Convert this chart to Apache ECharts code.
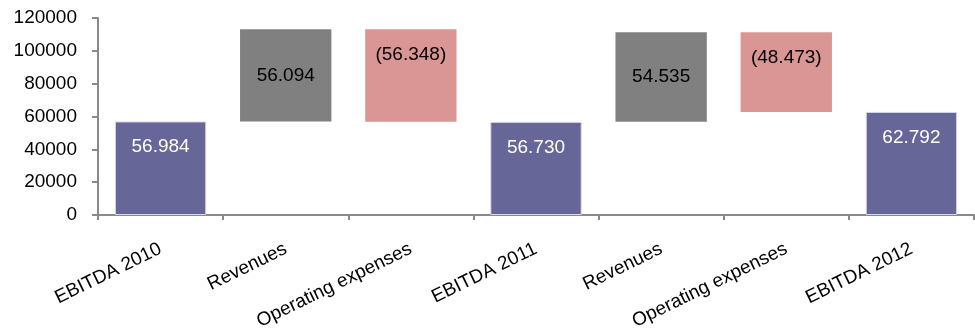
<!DOCTYPE html>
<html>
<head>
<meta charset="utf-8">
<script src="https://cdn.jsdelivr.net/npm/echarts@6/dist/echarts.min.js"></script>
<style>
  html, body { margin: 0; padding: 0; background: #fff; }
  #chart { width: 975px; height: 334px; }
</style>
</head>
<body>
<div id="chart"></div>
<script>
const categories = ["EBITDA 2010", "Revenues", "Operating expenses", "EBITDA 2011", "Revenues", "Operating expenses", "EBITDA 2012"];
// change of each step; totals are the EBITDA bars
const amounts = [56984, 56094, -56348, 56730, 54535, -48473, 62792];
const kinds = ["total", "up", "down", "total", "up", "down", "total"];
const yTicks = { min: 0, max: 120000, interval: 20000 };

const colors = { total: "#666699", up: "#808080", down: "#da9694" };

const fmt = (v) => {
  const s = Math.abs(v).toLocaleString("de-DE");
  return v < 0 ? "(" + s + ")" : s;
};

// invisible base for the floating bars
let level = 0;
const base = [];
const visible = [];
amounts.forEach((a, i) => {
  if (kinds[i] === "total") {
    base.push(0);
    visible.push(a);
    level = a;
  } else if (a >= 0) {
    base.push(level);
    visible.push(a);
    level += a;
  } else {
    level += a;
    base.push(level);
    visible.push(-a);
  }
});

const chart = echarts.init(document.getElementById("chart"));

chart.setOption({
  animation: false,
  textStyle: { fontFamily: "Liberation Sans, Arial, sans-serif" },
  grid: { left: 98, right: 1, top: 18, bottom: 119, containLabel: false },
  xAxis: {
    type: "category",
    data: categories,
    axisLine: { lineStyle: { color: "#898989", width: 2 } },
    axisTick: { show: true, length: 5, lineStyle: { color: "#898989", width: 2 } },
    axisLabel: { rotate: 26, margin: 33, color: "#000", fontSize: 19, interval: 0 }
  },
  yAxis: {
    type: "value",
    min: yTicks.min,
    max: yTicks.max,
    interval: yTicks.interval,
    splitLine: { show: false },
    axisLine: { show: true, lineStyle: { color: "#898989", width: 2 } },
    axisTick: { show: true, length: 6, lineStyle: { color: "#898989", width: 2 } },
    axisLabel: { color: "#000", fontSize: 19, margin: 21, formatter: (v) => String(v) }
  },
  series: [
    {
      type: "bar",
      stack: "w",
      data: base,
      itemStyle: { color: "transparent" },
      barCategoryGap: "27%",
      silent: true
    },
    {
      type: "bar",
      stack: "w",
      data: visible.map((v, i) => ({
        value: v,
        itemStyle: { color: colors[kinds[i]], borderColor: "#d8d8e8", borderWidth: kinds[i] === "total" ? 1 : 0 },
        label: {
          show: true,
          position: kinds[i] === "up" ? "inside" : "insideTop",
          distance: 16,
          color: kinds[i] === "total" ? "#fff" : "#000",
          fontSize: 19,
          formatter: () => fmt(amounts[i])
        }
      })),
      barCategoryGap: "27%"
    }
  ]
});
</script>
</body>
</html>
